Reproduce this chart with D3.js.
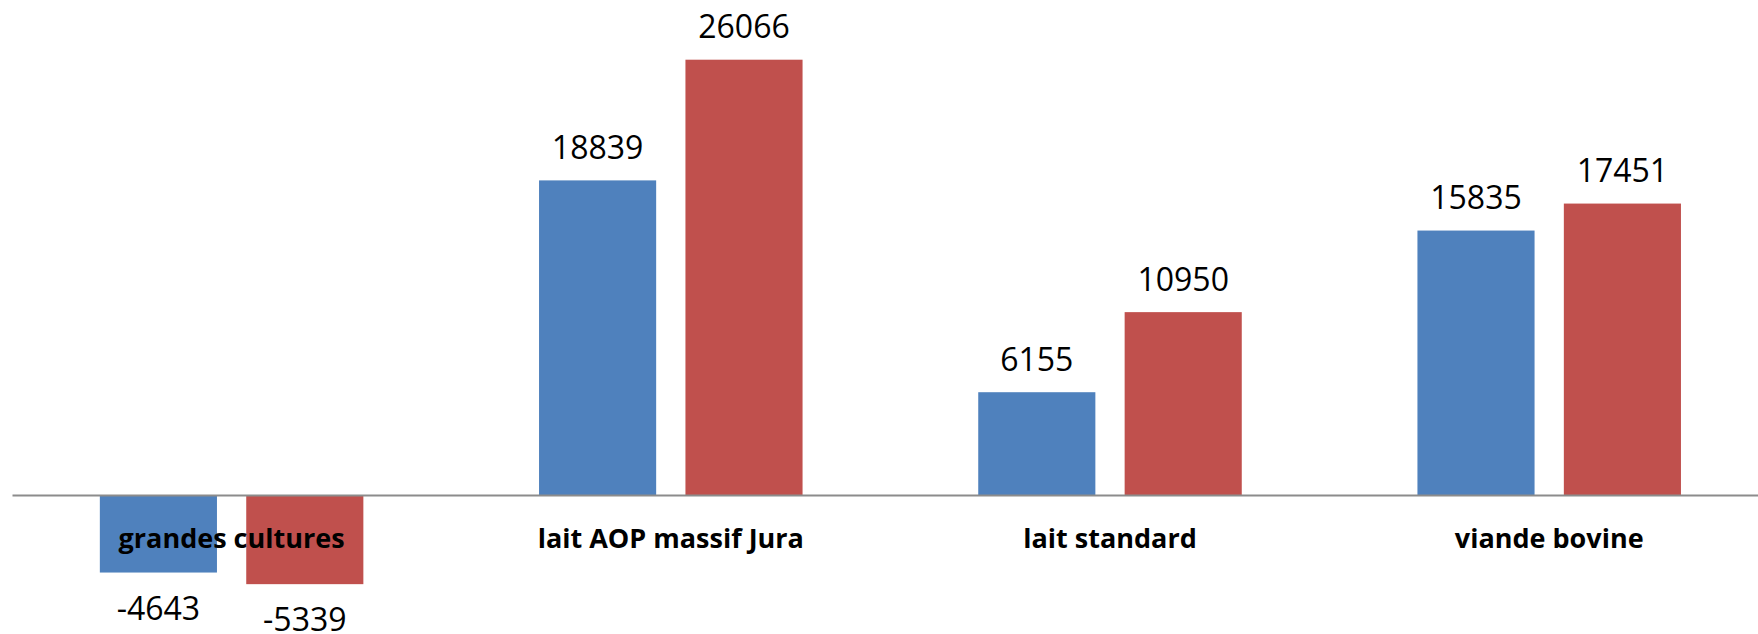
<!DOCTYPE html>
<html>
<head>
<meta charset="utf-8">
<script src="https://cdn.jsdelivr.net/npm/d3@7"></script>
<style>
  body { margin: 0; background: #fff; }
  .val { font-family: "Open Sans", sans-serif; font-size: 32px; fill: #000; }
  .cat { font-family: "Open Sans", sans-serif; font-size: 27px; font-weight: bold; fill: #000; }
</style>
</head>
<body>
<div id="chart"></div>
<script>
// data
const categories = ["grandes cultures", "lait AOP massif Jura", "lait standard", "viande bovine"];
const seriesA = [-4643, 18839, 6155, 15835];
const seriesB = [-5339, 26066, 10950, 17451];
const seriesColors = ["#4F81BD", "#C0504D"];

var drawChart = function(container){
    const width = 1758, height = 634;
    const zeroY = 495;
    const pxPerUnit = 0.01670;

    const svg = d3.select(container).append("svg")
        .attr("width", width)
        .attr("height", height);

    const x0 = d3.scaleBand()
        .domain(categories)
        .range([12, 12 + 4 * 439.2]);

    const barW = x0.bandwidth() / 3.75;
    const x1 = d3.scaleBand()
        .domain([0, 1])
        .range([0, 2.25 * barW])
        .paddingInner(0.2);

    const y = d3.scaleLinear()
        .domain([-8000, 30000])
        .range([zeroY + 8000 * pxPerUnit, zeroY - 30000 * pxPerUnit]);

    const rows = [];
    categories.forEach((c, i) => {
        [seriesA[i], seriesB[i]].forEach((v, s) => rows.push({cat: c, s: s, v: v}));
    });

    const barX = d => x0(d.cat) + 0.75 * barW + x1(d.s);

    svg.selectAll("rect.bar")
        .data(rows)
        .enter()
        .append("rect")
        .attr("class", "bar")
        .attr("x", barX)
        .attr("width", x1.bandwidth())
        .attr("y", d => Math.min(y(d.v), y(0)))
        .attr("height", d => Math.abs(y(d.v) - y(0)))
        .attr("fill", d => seriesColors[d.s]);

    // axis line (no ticks)
    svg.append("g")
        .attr("transform", `translate(0,${y(0)})`)
        .call(d3.axisBottom(x0).tickSize(0).tickFormat(""))
        .call(g => g.select(".domain").attr("stroke", "#8c8c8c").attr("stroke-width", 2));

    svg.selectAll("text.val")
        .data(rows)
        .enter()
        .append("text")
        .attr("class", "val")
        .attr("text-anchor", "middle")
        .attr("x", d => barX(d) + x1.bandwidth() / 2)
        .attr("y", d => d.v >= 0 ? y(d.v) - 21.5 : y(d.v) + 47)
        .text(d => d.v);

    svg.selectAll("text.cat")
        .data(categories)
        .enter()
        .append("text")
        .attr("class", "cat")
        .attr("text-anchor", "middle")
        .attr("x", d => x0(d) + x0.bandwidth() / 2)
        .attr("y", 548)
        .text(d => d);
}

drawChart("#chart");
</script>
</body>
</html>
